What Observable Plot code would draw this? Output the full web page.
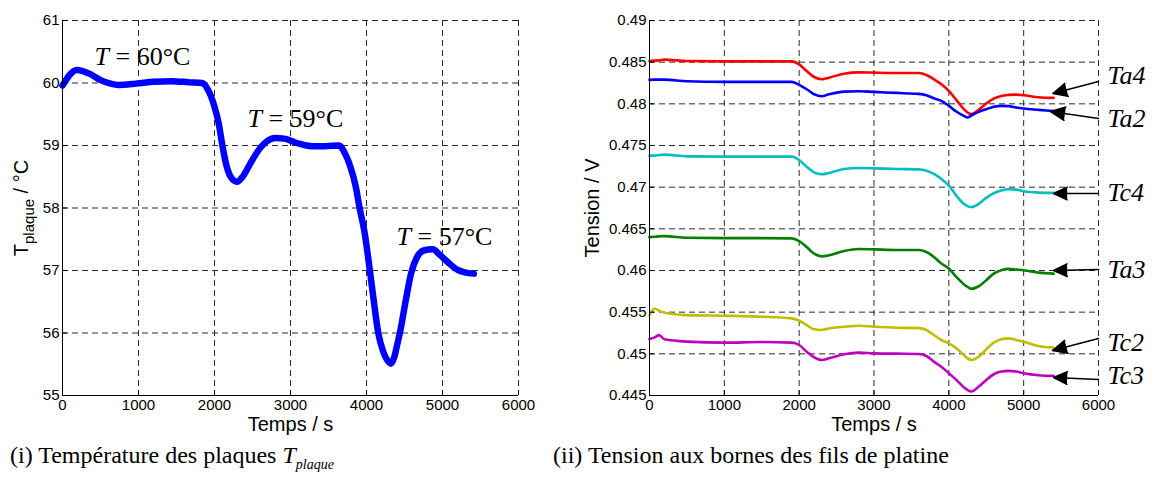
<!DOCTYPE html>
<html>
<head>
<meta charset="utf-8">
<script src="https://cdn.jsdelivr.net/npm/d3@7"></script>
<script src="https://cdn.jsdelivr.net/npm/@observablehq/plot@0.6"></script>
<style>
  html, body { margin: 0; padding: 0; background: #fff; }
  body { width: 1152px; height: 497px; overflow: hidden; }
  #row { display: flex; width: 1152px; height: 435px; }
  #caps { position: relative; width: 1152px; height: 62px; font-family: "Liberation Serif", "Times New Roman", serif; font-size: 24px; color: #000; }
  .cap { position: absolute; top: 8px; line-height: 24px; white-space: nowrap; }
  .cap sub { font-size: 14px; }
</style>
</head>
<body>
<div id="row"><div id="left"></div><div id="right"></div></div>
<div id="caps">
  <div class="cap" style="left:10px">(i) Température des plaques <i>T<sub>plaque</sub></i></div>
  <div class="cap" style="left:553px">(ii) Tension aux bornes des fils de platine</div>
</div>
<script>
// ---------- shared axis ticks ----------
const xTicks = [0, 1000, 2000, 3000, 4000, 5000, 6000];
const tempTicks = [55, 56, 57, 58, 59, 60, 61];
const voltTicks = [0.445, 0.45, 0.455, 0.46, 0.465, 0.47, 0.475, 0.48, 0.485, 0.49];
const voltTickLabels = ["0.445", "0.45", "0.455", "0.46", "0.465", "0.47", "0.475", "0.48", "0.485", "0.49"];

// ---------- panel (i): plate temperature ----------
const tempTime = [0,188,353,494,635,729,965,1200,1435,1671,1835,1906,2000,2056,2104,2151,2212,2296,2376,2471,2565,2682,2800,2918,3082,3271,3459,3638,3718,3788,3859,3906,3976,4038,4094,4155,4212,4282,4320,4362,4400,4447,4518,4588,4659,4753,4871,4965,5082,5200,5294,5412];
const tempValue = [59.96,60.21,60.15,60.05,59.99,59.97,59.99,60.02,60.03,60.01,60.0,59.91,59.62,59.35,59.0,58.71,58.5,58.42,58.51,58.71,58.9,59.06,59.12,59.11,59.04,58.99,58.99,59.0,58.87,58.66,58.34,58.02,57.6,57.06,56.53,56.0,55.73,55.55,55.51,55.6,55.79,56.05,56.53,56.96,57.2,57.32,57.34,57.25,57.12,57.01,56.97,56.95];
const annotText = ["T = 60°C", "T = 59°C", "T = 57°C"];
const annotTime = [421, 2434, 4395];
const annotTemp = [60.42, 59.43, 57.54];

// ---------- panel (ii): wire voltages ----------
const voltTime = [0,70,130,200,500,1000,1500,1900,2000,2100,2200,2300,2400,2600,2800,3000,3300,3600,3700,3800,3900,4000,4100,4200,4250,4300,4400,4500,4600,4700,4800,4900,5000,5200,5400];
const seriesNames = ["Ta4", "Ta2", "Tc4", "Ta3", "Tc2", "Tc3"];
const seriesColors = ["#ff0000", "#0000ff", "#00bfbf", "#008000", "#bfbf00", "#bf00bf"];
const voltTa4 = [0.48514,0.48518,0.48522,0.4853,0.48514,0.4851,0.4851,0.4851,0.48474,0.48394,0.48322,0.48295,0.48314,0.48362,0.48378,0.48374,0.4837,0.4837,0.48346,0.48295,0.48235,0.48155,0.48047,0.47936,0.47896,0.47876,0.47932,0.48004,0.48063,0.48095,0.48107,0.48111,0.48103,0.48079,0.48071];
const voltTa2 = [0.48287,0.48291,0.48291,0.48291,0.48271,0.48263,0.48263,0.48263,0.48227,0.48175,0.48115,0.48091,0.48115,0.48147,0.48151,0.48143,0.48131,0.48119,0.48103,0.48067,0.48035,0.47976,0.47908,0.47856,0.47836,0.4786,0.47904,0.47936,0.47964,0.47976,0.47972,0.47956,0.47944,0.47928,0.47912];
const voltTc4 = [0.47378,0.47378,0.47386,0.4739,0.4737,0.47366,0.47366,0.47366,0.47326,0.47246,0.47178,0.47155,0.47171,0.47218,0.4723,0.47226,0.47218,0.47214,0.47198,0.47159,0.47099,0.47019,0.46899,0.468,0.46772,0.4676,0.468,0.46872,0.46927,0.46959,0.46975,0.46971,0.46951,0.46935,0.46931];
const voltTa3 = [0.46401,0.46405,0.46409,0.46413,0.46393,0.46389,0.46389,0.46385,0.46353,0.46282,0.46202,0.4617,0.46182,0.46234,0.46258,0.46254,0.46246,0.46246,0.46222,0.46162,0.46083,0.46023,0.45923,0.45835,0.45803,0.4578,0.45811,0.45883,0.45963,0.46003,0.46019,0.46011,0.46003,0.45975,0.45963];
const voltTc2 = [0.45465,0.45544,0.45516,0.45493,0.45465,0.45457,0.45445,0.45425,0.45397,0.45345,0.45294,0.45286,0.45305,0.45325,0.45337,0.45325,0.45313,0.45309,0.45286,0.45226,0.45166,0.45126,0.45066,0.44986,0.44946,0.44926,0.44966,0.45054,0.45134,0.45174,0.45186,0.45166,0.45146,0.45094,0.45074];
const voltTc3 = [0.45178,0.45198,0.45225,0.45174,0.45146,0.45134,0.45142,0.45134,0.45106,0.45026,0.44959,0.44926,0.44946,0.44994,0.45014,0.45006,0.45002,0.44998,0.44974,0.44906,0.44846,0.44767,0.44687,0.44599,0.44567,0.44548,0.44607,0.44687,0.44755,0.44787,0.44795,0.44787,0.44767,0.44743,0.44735];

// arrows: tail at right edge of axes, tip at end of each curve
const arrowTailT = [6000, 6000, 6000, 6000, 6000, 6000];
const arrowTailV = [0.48268, 0.47824, 0.46924, 0.46012, 0.45184, 0.44692];
const arrowTipT  = [5390, 5360, 5400, 5400, 5385, 5400];
const arrowTipV  = [0.48124, 0.47908, 0.46924, 0.46000, 0.45040, 0.44716];
const labelV     = [0.48340, 0.47824, 0.46936, 0.46012, 0.45136, 0.44740];

// ---------- build tables ----------
const tempData = tempTime.map((t, i) => ({t, T: tempValue[i]}));
const annotData = annotText.map((s, i) => ({s, t: annotTime[i], T: annotTemp[i]}));
const voltSeries = [voltTa4, voltTa2, voltTc4, voltTa3, voltTc2, voltTc3];
const voltData = seriesNames.flatMap((name, k) => voltTime.map((t, i) => ({name, t, v: voltSeries[k][i]})));
const arrowData = seriesNames.map((name, i) => ({name, x1: arrowTailT[i], y1: arrowTailV[i], x2: arrowTipT[i], y2: arrowTipV[i], lv: labelV[i]}));
const voltLabel = new Map(voltTicks.map((d, i) => [d, voltTickLabels[i]]));

const gridStyle = {stroke: "#2a2a2a", strokeOpacity: 1, strokeWidth: 1, strokeDasharray: "6,4"};
const baseStyle = {fontFamily: "'Liberation Sans', Arial, sans-serif", fontSize: "15px", color: "#000", background: "#fff", overflow: "visible"};
const plain = d => String(d);

const left = Plot.plot({
  width: 560, height: 435,
  marginLeft: 62, marginRight: 42, marginTop: 20, marginBottom: 40,
  style: baseStyle,
  x: {domain: [xTicks[0], xTicks[xTicks.length - 1]]},
  y: {domain: [tempTicks[0], tempTicks[tempTicks.length - 1]]},
  marks: [
    Plot.gridX(xTicks, gridStyle),
    Plot.gridY(tempTicks, gridStyle),
    Plot.line(tempData, {x: "t", y: "T", stroke: "#0000ff", strokeWidth: 6.5, curve: "monotone-x", strokeLinecap: "round"}),
    Plot.ruleX([xTicks[0]], {stroke: "#000", strokeWidth: 1}),
    Plot.ruleY([tempTicks[0]], {stroke: "#000", strokeWidth: 1}),
    Plot.axisX(xTicks, {tickSize: 5, dy: -5, tickFormat: () => "", label: null}),
    Plot.axisX(xTicks, {tickSize: 0, tickPadding: 4, tickFormat: plain, label: null}),
    Plot.axisY(tempTicks, {tickSize: 5, dx: 5, tickFormat: () => "", label: null}),
    Plot.axisY(tempTicks, {tickSize: 0, tickPadding: 3, tickFormat: plain, label: null}),
    Plot.text(annotData, {x: "t", y: "T", text: "s", textAnchor: "start", fontFamily: "'Liberation Serif', 'Times New Roman', serif", fontSize: 26, fill: "#000"}),
    Plot.text(["Temps / s"], {frameAnchor: "bottom", textAnchor: "middle", lineAnchor: "top", dy: 21, fontSize: 20, fill: "#000"}),
    Plot.text(["T / °C"], {frameAnchor: "left", textAnchor: "middle", lineAnchor: "middle", rotate: -90, dx: -41, fontSize: 20, fill: "#000"})
  ]
});

const right = Plot.plot({
  width: 592, height: 435,
  marginLeft: 89, marginRight: 54, marginTop: 20, marginBottom: 40,
  style: baseStyle,
  x: {domain: [xTicks[0], xTicks[xTicks.length - 1]]},
  y: {domain: [voltTicks[0], voltTicks[voltTicks.length - 1]]},
  color: {domain: seriesNames, range: seriesColors},
  marks: [
    Plot.gridX(xTicks, gridStyle),
    Plot.gridY(voltTicks, gridStyle),
    Plot.line(voltData, {x: "t", y: "v", z: "name", stroke: "name", strokeWidth: 2.6, curve: "monotone-x"}),
    Plot.ruleX([xTicks[0]], {stroke: "#000", strokeWidth: 1}),
    Plot.ruleY([voltTicks[0]], {stroke: "#000", strokeWidth: 1}),
    Plot.axisX(xTicks, {tickSize: 5, dy: -5, tickFormat: () => "", label: null}),
    Plot.axisX(xTicks, {tickSize: 0, tickPadding: 4, tickFormat: plain, label: null}),
    Plot.axisY(voltTicks, {tickSize: 5, dx: 5, tickFormat: () => "", label: null}),
    Plot.axisY(voltTicks, {tickSize: 0, tickPadding: 3, tickFormat: d => voltLabel.get(d), label: null}),
    Plot.arrow(arrowData, {x1: "x1", y1: "y1", x2: "x2", y2: "y2", stroke: "#000", fill: "#000", strokeWidth: 1.5, headLength: 16, headAngle: 50}),
    Plot.text(arrowData, {x: "x1", y: "lv", text: "name", dx: 9, textAnchor: "start", fontFamily: "'Liberation Serif', 'Times New Roman', serif", fontStyle: "italic", fontSize: 26, fill: "#000"}),
    Plot.text(["Temps / s"], {frameAnchor: "bottom", textAnchor: "middle", lineAnchor: "top", dy: 21, fontSize: 20, fill: "#000"}),
    Plot.text(["Tension / V"], {frameAnchor: "left", textAnchor: "middle", lineAnchor: "middle", rotate: -90, dx: -57, fontSize: 20, fill: "#000"})
  ]
});

document.getElementById("left").appendChild(left);
document.getElementById("right").appendChild(right);

// italic T in the temperature annotations
d3.select(left).selectAll("text").filter(function() { return annotText.includes(this.textContent); }).each(function() {
  const el = d3.select(this);
  const s = el.text();
  el.text(null);
  el.append("tspan").attr("font-style", "italic").text(s.slice(0, 1));
  el.append("tspan").text(s.slice(1));
});
// subscript in the left y label
d3.select(left).selectAll("text").filter(function() { return this.textContent === "T / °C"; }).each(function() {
  const el = d3.select(this);
  el.text(null);
  el.append("tspan").text("T");
  el.append("tspan").attr("font-size", 15).attr("dy", 6).text("plaque");
  el.append("tspan").attr("dy", -6).text(" / °C");
});
</script>
</body>
</html>
